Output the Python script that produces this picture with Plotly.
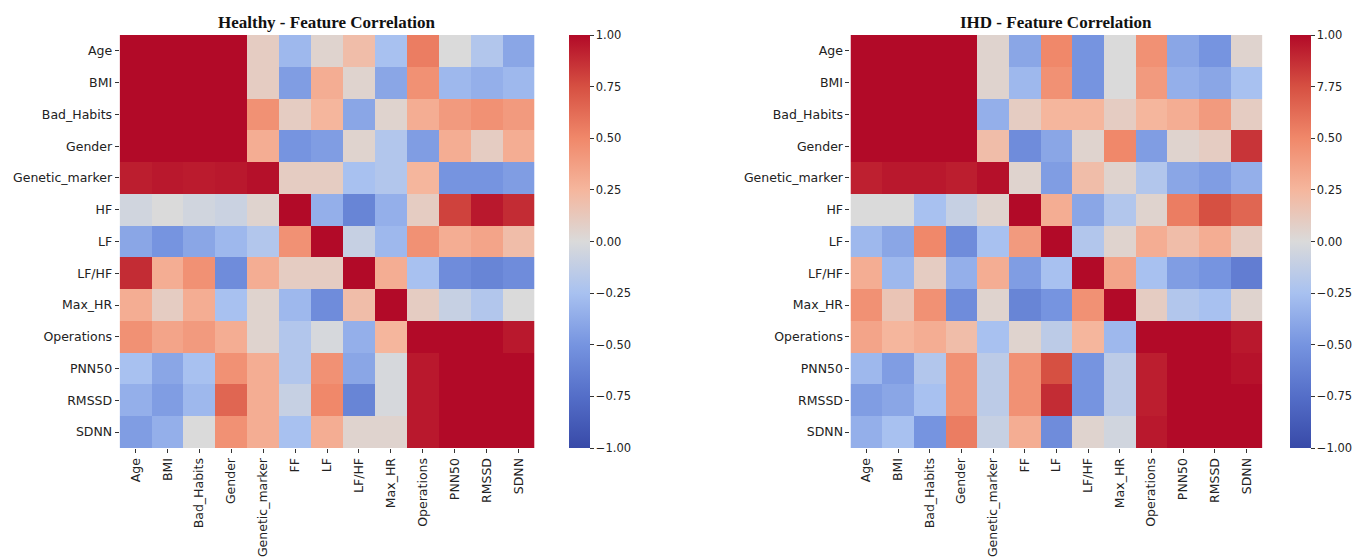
import plotly.graph_objects as go

# Feature labels
row_labels = ["Age", "BMI", "Bad_Habits", "Gender", "Genetic_marker", "HF", "LF",
              "LF/HF", "Max_HR", "Operations", "PNN50", "RMSSD", "SDNN"]
col_labels = ["Age", "BMI", "Bad_Habits", "Gender", "Genetic_marker", "FF", "LF",
              "LF/HF", "Max_HR", "Operations", "PNN50", "RMSSD", "SDNN"]

# Correlation matrix - healthy group
healthy_corr = [
    [1.00, 1.00, 1.00, 1.00, 0.10, -0.30, 0.05, 0.20, -0.25, 0.55, 0.00, -0.20, -0.40],
    [1.00, 1.00, 1.00, 1.00, 0.10, -0.45, 0.30, 0.05, -0.40, 0.45, -0.30, -0.35, -0.30],
    [1.00, 1.00, 1.00, 1.00, 0.45, 0.10, 0.25, -0.40, 0.05, 0.30, 0.40, 0.45, 0.40],
    [1.00, 1.00, 1.00, 1.00, 0.30, -0.50, -0.45, 0.05, -0.20, -0.45, 0.30, 0.10, 0.30],
    [0.93, 0.95, 0.94, 0.95, 0.98, 0.10, 0.10, -0.25, -0.20, 0.25, -0.50, -0.50, -0.45],
    [-0.05, 0.00, -0.05, -0.08, 0.05, 1.00, -0.35, -0.60, -0.35, 0.10, 0.80, 0.95, 0.88],
    [-0.40, -0.50, -0.40, -0.30, -0.20, 0.45, 1.00, -0.10, -0.30, 0.45, 0.30, 0.35, 0.20],
    [0.88, 0.30, 0.45, -0.55, 0.30, 0.10, 0.10, 1.00, 0.30, -0.25, -0.55, -0.60, -0.55],
    [0.30, 0.10, 0.30, -0.25, 0.05, -0.30, -0.55, 0.20, 1.00, 0.10, -0.10, -0.20, 0.00],
    [0.45, 0.35, 0.40, 0.30, 0.05, -0.20, -0.02, -0.35, 0.25, 1.00, 1.00, 1.00, 0.95],
    [-0.25, -0.40, -0.25, 0.45, 0.30, -0.20, 0.45, -0.40, -0.02, 0.95, 1.00, 1.00, 1.00],
    [-0.35, -0.45, -0.30, 0.65, 0.30, -0.10, 0.50, -0.60, -0.02, 0.95, 1.00, 1.00, 1.00],
    [-0.45, -0.35, 0.00, 0.45, 0.30, -0.25, 0.30, 0.05, 0.05, 0.95, 1.00, 1.00, 1.00],
]

# Correlation matrix - IHD group
ihd_corr = [
    [1.00, 1.00, 1.00, 1.00, 0.05, -0.40, 0.50, -0.50, 0.00, 0.45, -0.40, -0.50, 0.05],
    [1.00, 1.00, 1.00, 1.00, 0.05, -0.30, 0.45, -0.50, 0.00, 0.40, -0.35, -0.40, -0.25],
    [1.00, 1.00, 1.00, 1.00, -0.35, 0.10, 0.25, 0.25, 0.10, 0.25, 0.30, 0.40, 0.10],
    [1.00, 1.00, 1.00, 1.00, 0.20, -0.55, -0.40, 0.05, 0.50, -0.45, 0.05, 0.10, 0.85],
    [0.92, 0.95, 0.95, 0.93, 0.98, 0.05, -0.45, 0.20, 0.05, -0.20, -0.40, -0.45, -0.35],
    [0.00, 0.00, -0.25, -0.10, 0.05, 1.00, 0.30, -0.40, -0.20, 0.05, 0.55, 0.75, 0.65],
    [-0.30, -0.40, 0.50, -0.55, -0.25, 0.40, 1.00, -0.20, 0.05, 0.30, 0.20, 0.30, 0.10],
    [0.30, -0.30, 0.10, -0.35, 0.30, -0.45, -0.25, 1.00, 0.35, -0.25, -0.45, -0.50, -0.65],
    [0.45, 0.15, 0.45, -0.55, 0.05, -0.60, -0.50, 0.45, 1.00, 0.10, -0.20, -0.25, 0.05],
    [0.35, 0.25, 0.30, 0.20, -0.25, 0.05, -0.15, 0.25, -0.30, 1.00, 1.00, 1.00, 0.95],
    [-0.30, -0.45, -0.20, 0.45, -0.15, 0.45, 0.75, -0.50, -0.15, 0.93, 1.00, 1.00, 0.97],
    [-0.45, -0.40, -0.25, 0.45, -0.15, 0.45, 0.88, -0.50, -0.15, 0.93, 1.00, 1.00, 1.00],
    [-0.35, -0.25, -0.50, 0.55, -0.10, 0.30, -0.55, 0.05, -0.05, 0.95, 1.00, 1.00, 1.00],
]

# Colorbar tick labels
cbar_vals = [1.0, 0.75, 0.5, 0.25, 0.0, -0.25, -0.5, -0.75, -1.0]
healthy_cbar_text = ["1.00", "0.75", "0.50", "0.25", "0.00", "\u22120.25", "\u22120.50", "\u22120.75", "\u22121.00"]
ihd_cbar_text = ["1.00", "7.75", "0.50", "0.25", "0.00", "\u22120.25", "\u22120.50", "\u22120.75", "\u22121.00"]

titles = ["Healthy - Feature Correlation", "IHD - Feature Correlation"]

# diverging blue-grey-red scale (coolwarm-like)
coolwarm = [
    [0.0, "rgb(56,74,168)"],
    [0.125, "rgb(84,110,200)"],
    [0.25, "rgb(118,148,224)"],
    [0.375, "rgb(168,193,240)"],
    [0.5, "rgb(218,218,218)"],
    [0.625, "rgb(245,182,157)"],
    [0.75, "rgb(240,136,106)"],
    [0.875, "rgb(214,80,66)"],
    [1.0, "rgb(178,10,40)"],
]

W, H = 1363, 558
tick_font = dict(family="DejaVu Sans", size=12.5, color="#222")
CB_PAD = 10


def px_x(v):
    return v / W


def px_y(v):
    return (H - v) / H


fig = go.Figure()

panels = [
    dict(z=healthy_corr, xa="x", ya="y", ca="coloraxis", dom=(120, 536), cb_x=571, cb_text=healthy_cbar_text),
    dict(z=ihd_corr, xa="x2", ya="y2", ca="coloraxis2", dom=(853, 1266), cb_x=1294, cb_text=ihd_cbar_text),
]

layout = dict(
    width=W, height=H,
    margin=dict(l=0, r=0, t=0, b=0),
    paper_bgcolor="white", plot_bgcolor="white",
    showlegend=False,
    annotations=[],
)

for i, p in enumerate(panels):
    fig.add_trace(go.Heatmap(
        z=p["z"], x=col_labels, y=row_labels,
        xaxis=p["xa"], yaxis=p["ya"], coloraxis=p["ca"],
        hovertemplate="%{y} / %{x}: %{z:.2f}<extra></extra>",
    ))
    suffix = "" if i == 0 else "2"
    layout["xaxis" + suffix] = dict(
        domain=[px_x(p["dom"][0]), px_x(p["dom"][1])],
        anchor="y" + suffix, tickangle=-90, ticks="outside", ticklen=4,
        tickcolor="#333", tickfont=tick_font, showgrid=False, zeroline=False,
        showline=False, type="category",
    )
    layout["yaxis" + suffix] = dict(
        domain=[px_y(448), px_y(35)], anchor="x" + suffix,
        autorange="reversed", ticks="outside", ticklen=4, tickcolor="#333",
        tickfont=tick_font, showgrid=False, zeroline=False, showline=False,
        type="category",
    )
    layout["coloraxis" + suffix] = dict(
        colorscale=coolwarm, cmin=-1, cmax=1,
        colorbar=dict(
            x=px_x(p["cb_x"] - CB_PAD), xanchor="left", xref="paper",
            xpad=CB_PAD, ypad=CB_PAD,
            y=px_y(448 + CB_PAD), yanchor="bottom",
            len=(448 - 35 + 2 * CB_PAD) / H, lenmode="fraction",
            thickness=21, outlinewidth=0,
            tickmode="array", tickvals=cbar_vals, ticktext=p["cb_text"],
            ticks="outside", ticklen=4, tickcolor="#333",
            ticklabeloverflow="allow",
            tickfont=dict(family="DejaVu Sans", size=11.5, color="#222"),
        ),
    )
    layout["annotations"].append(dict(
        text="<b>" + titles[i] + "</b>", xref="paper", yref="paper",
        x=px_x((p["dom"][0] + p["dom"][1]) / 2), y=px_y(22),
        xanchor="center", yanchor="middle", showarrow=False,
        font=dict(family="Liberation Serif", size=17, color="#111"),
    ))

fig.update_layout(**layout)
fig.write_html("out.html")
